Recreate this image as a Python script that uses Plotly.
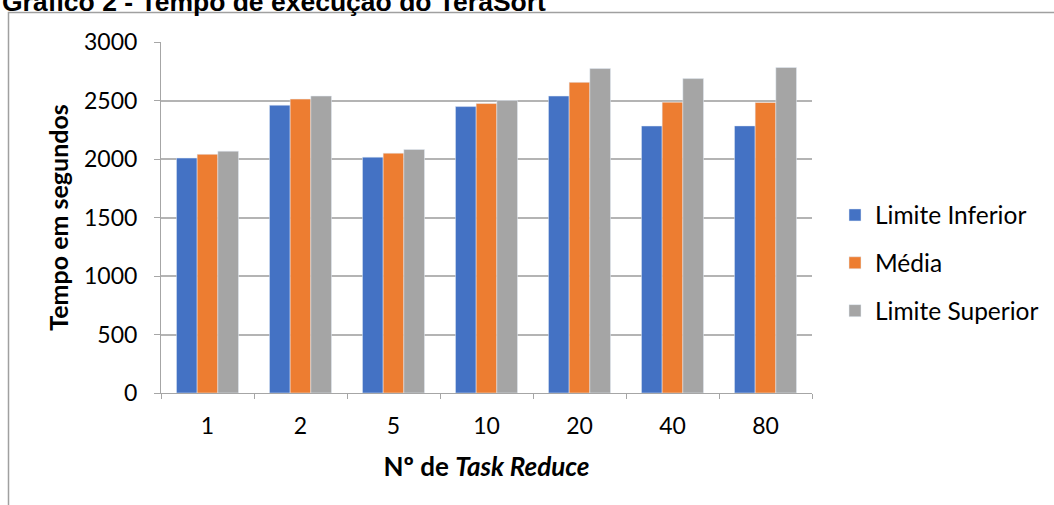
import plotly.graph_objects as go

categories = ["1", "2", "5", "10", "20", "40", "80"]
limite_inferior = [2008, 2460, 2016, 2448, 2538, 2282, 2283]
media = [2040, 2512, 2050, 2474, 2655, 2486, 2483]
limite_superior = [2067, 2538, 2081, 2500, 2773, 2687, 2782]
y_ticks = [0, 500, 1000, 1500, 2000, 2500, 3000]

W, H = 1054, 505
L, R, T, B = 161, 242, 42, 112
pw = W - L - R
ph = H - T - B

def px_to_paper_x(px):
    return (px - L) / pw

def px_to_paper_y(py):
    return (H - B - py) / ph

FONT = "Lato"
axis_gray = "#a6a6a6"

fig = go.Figure()
series = [("Limite Inferior", limite_inferior, "#4472C4"),
          ("Média", media, "#ED7D31"),
          ("Limite Superior", limite_superior, "#A5A5A5")]
for name, vals, col in series:
    fig.add_trace(go.Bar(x=categories, y=vals, name=name, marker_color=col,
                         legendgroup=name, hoverinfo="skip"))

fig.update_layout(
    width=W, height=H,
    margin=dict(l=L, r=R, t=T, b=B, autoexpand=False),
    paper_bgcolor="white", plot_bgcolor="white",
    barmode="group", bargap=0.333, bargroupgap=0,
    font=dict(family=FONT, size=23, color="#000000"),
    showlegend=True,
    legend=dict(x=px_to_paper_x(835), xanchor="left",
                y=px_to_paper_y(263), yanchor="middle",
                font=dict(family=FONT, size=24.5, color="#000000"),
                tracegroupgap=13, traceorder="grouped",
                bgcolor="rgba(0,0,0,0)"),
    xaxis=dict(type="category", showline=True, linecolor=axis_gray, linewidth=1,
               ticks="outside", tickson="boundaries", ticklen=5, tickcolor=axis_gray,
               showgrid=False, tickfont=dict(family=FONT, size=23), ticklabelstandoff=12,
               title=dict(text="<b>Nº de <i>Task Reduce</i></b>",
                          font=dict(family=FONT, size=26), standoff=20)),
    yaxis=dict(range=[0, 3000], tickvals=y_ticks, showline=True, linecolor=axis_gray,
               linewidth=1, ticks="outside", ticklen=6, tickcolor=axis_gray,
               showgrid=True, gridcolor="#b4b4b4", gridwidth=2, zeroline=False,
               tickfont=dict(family=FONT, size=23), ticklabelstandoff=12,
               title=dict(text="<b>Tempo em segundos</b>",
                          font=dict(family=FONT, size=25), standoff=8)),
    shapes=[dict(type="rect", xref="paper", yref="paper",
                 x0=px_to_paper_x(8.5), x1=px_to_paper_x(1070),
                 y0=px_to_paper_y(520), y1=px_to_paper_y(12.5),
                 line=dict(color="#a0a0a0", width=1.5), fillcolor="rgba(0,0,0,0)",
                 layer="below")],
    annotations=[dict(text="<b>Gráfico 2 - Tempo de execução do TeraSort</b>",
                      xref="paper", yref="paper", x=px_to_paper_x(0), xanchor="left",
                      y=px_to_paper_y(2), yanchor="middle", showarrow=False,
                      font=dict(family="Liberation Sans, Arial", size=26.5, color="#000000"))],
)

fig.write_html("out.html", config={"displayModeBar": False},
               post_script="document.body.style.margin='0';")
